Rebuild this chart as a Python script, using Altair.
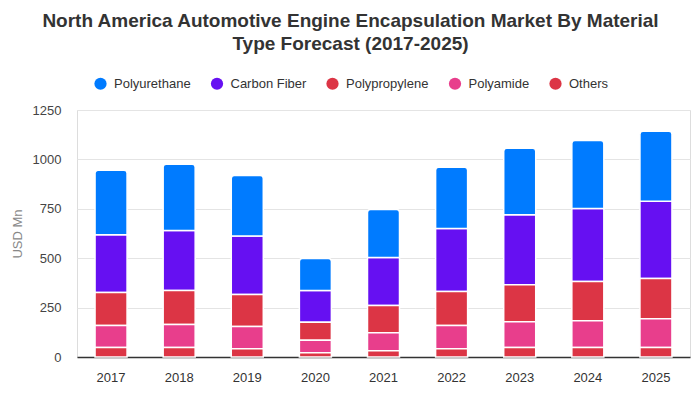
import altair as alt
import pandas as pd

years = ["2017", "2018", "2019", "2020", "2021", "2022", "2023", "2024", "2025"]
others = [48, 48, 42, 22, 32, 42, 48, 48, 48]
polyamide = [111, 116, 112, 63, 91, 117, 131, 136, 146]
polypropylene = [167, 172, 162, 91, 137, 172, 187, 198, 203]
carbon_fiber = [293, 304, 296, 161, 244, 319, 354, 369, 391]
polyurethane = [326, 335, 307, 162, 243, 310, 336, 345, 354]

series = ["Polyurethane", "Carbon Fiber", "Polypropylene", "Polyamide", "Others"]
colors = ["#007bff", "#6610f2", "#dc3545", "#e83e8c", "#dc3545"]
stack_order = {"Others": 0, "Polyamide": 1, "Polypropylene": 2, "Carbon Fiber": 3, "Polyurethane": 4}
values = {
    "Polyurethane": polyurethane,
    "Carbon Fiber": carbon_fiber,
    "Polypropylene": polypropylene,
    "Polyamide": polyamide,
    "Others": others,
}

rows = []
for s in series:
    for y, v in zip(years, values[s]):
        rows.append({"year": y, "material": s, "value": v, "ord": stack_order[s]})
df = pd.DataFrame(rows)

base = alt.Chart(df).transform_stack(
    stack="value", groupby=["year"], as_=["v0", "v1"],
    sort=[alt.SortField("ord", order="ascending")]
)

x_enc = alt.X("year:N", title=None, sort=years,
              scale=alt.Scale(paddingInner=0.53, paddingOuter=0.265),
              axis=alt.Axis(labelAngle=0, labelFontSize=13, labelColor="#333333",
                            labelFont="Liberation Sans", labelPadding=14, ticks=False,
                            domainColor="#333333", domainWidth=1.5, grid=False))
y_enc = alt.Y("v0:Q", title="USD Mn",
              scale=alt.Scale(domain=[0, 1250], nice=False),
              axis=alt.Axis(values=[0, 250, 500, 750, 1000, 1250], format="d", labelFontSize=13,
                            labelColor="#444444", labelFont="Liberation Sans", labelPadding=16,
                            ticks=False, domain=False, gridColor="#e4e4e4",
                            titleFontSize=13, titleFont="Liberation Sans", titleFontWeight="normal",
                            titleColor="#888888", titlePadding=8))
color_enc = alt.Color("material:N", title=None,
                      scale=alt.Scale(domain=series, range=colors),
                      legend=alt.Legend(orient="none", direction="horizontal", legendX=17, legendY=-33,
                                        symbolType="circle", symbolSize=150, symbolStrokeWidth=0,
                                        labelFontSize=13, labelFont="Liberation Sans", labelColor="#333333",
                                        labelOffset=7, columnPadding=19.5, padding=0))

lower = base.transform_filter(alt.datum.material != "Polyurethane").mark_bar(
    stroke="white", strokeWidth=1.5
).encode(x=x_enc, y=y_enc, y2="v1:Q", color=color_enc)

upper = base.transform_filter(alt.datum.material == "Polyurethane").mark_bar(
    stroke="white", strokeWidth=1.5, cornerRadiusTopLeft=3, cornerRadiusTopRight=3
).encode(x=x_enc, y=y_enc, y2="v1:Q", color=color_enc)

chart = alt.layer(lower, upper).properties(
    width=613, height=247,
    autosize=alt.AutoSizeParams(type="none"),
    padding={"left": 77, "top": 110, "right": 10, "bottom": 44},
    title=alt.Title(
        ["North America Automotive Engine Encapsulation Market By Material", "Type Forecast (2017-2025)"],
        font="Liberation Sans", fontSize=19, fontWeight="bold", color="#333333",
        anchor="middle", dx=-33, lineHeight=23, offset=23
    )
).configure_view(stroke=None).configure(background="white")

chart.save("out.html", embed_options={"renderer": "svg", "actions": False})
